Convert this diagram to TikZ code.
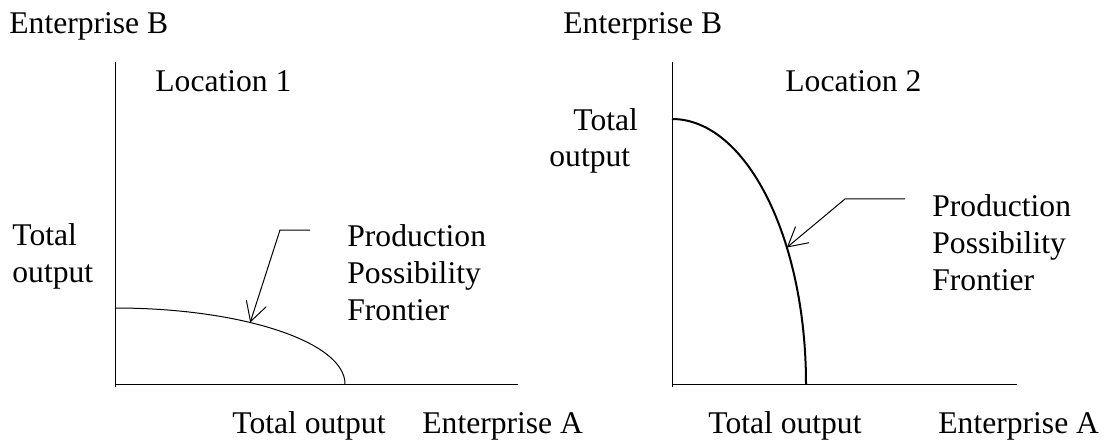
\documentclass[tikz,border=0pt]{standalone}
\usepackage{fontspec}
\setmainfont{Liberation Serif}
\usetikzlibrary{arrows.meta}
\tikzset{
	lbl/.style={anchor=base west, inner sep=0pt, align=left, font=\fontsize{15.8}{18.4}\selectfont},
	axis/.style={line width=0.5pt},
	ppf/.style={line width=0.5pt},
	pointer/.style={line width=0.5pt, -{Straight Barb[length=9.5pt,width=10.5pt]}},
}

\begin{document}
\begin{tikzpicture}[x=0.5pt, y=0.5pt]
	\useasboundingbox (0,0) rectangle (1104,440);
	% Location 1: flat frontier
	\coordinate (o1) at (115,56);
	\draw[axis] (115,378) -- (115,53);
	\draw[axis] (o1) -- (518,56);
	\draw[ppf] (115,132) arc[start angle=90, end angle=0, x radius=230, y radius=76];
	\path (o1) ++(54:230 and 76) coordinate (tip1);
	\coordinate (knee1) at (280,210);
	\coordinate (tail1) at (310,210);
	\draw[pointer] (tail1) -- (knee1) -- (tip1);
	% multi-line labels sit on their last line
	\node[lbl] (entB1) at (9,406) {Enterprise B};
	\node[lbl] (loc1) at (155,348) {Location 1};
	\node[lbl] (totB1) at (12,158) {Total\\output};
	\node[lbl] (ppf1) at (347,120) {Production\\Possibility\\Frontier};
	\node[lbl] (totA1) at (232,7) {Total output};
	\node[lbl] (entA1) at (422,7) {Enterprise A};
	% Location 2: steep frontier
	\coordinate (o2) at (672,56);
	\draw[axis] (672,378) -- (672,53);
	\draw[axis] (o2) -- (1017,56);
	\draw[ppf, line width=1pt] (672,321) arc[start angle=90, end angle=0, x radius=134, y radius=265];
	\path (o2) ++(31:134 and 265) coordinate (tip2);
	\coordinate (knee2) at (845,241);
	\coordinate (tail2) at (905,241);
	\draw[pointer] (tail2) -- (knee2) -- (tip2);
	\node[lbl] (entB2) at (563,406) {Enterprise B};
	\node[lbl] (loc2) at (785,348) {Location 2};
	\node[lbl] (totB2) at (549,273) {\hspace*{12pt}Total\\output};
	\node[lbl] (ppf2) at (932,150) {Production\\Possibility\\Frontier};
	\node[lbl] (totA2) at (708,7) {Total output};
	\node[lbl] (entA2) at (938,7) {Enterprise A};
\end{tikzpicture}
\end{document}
